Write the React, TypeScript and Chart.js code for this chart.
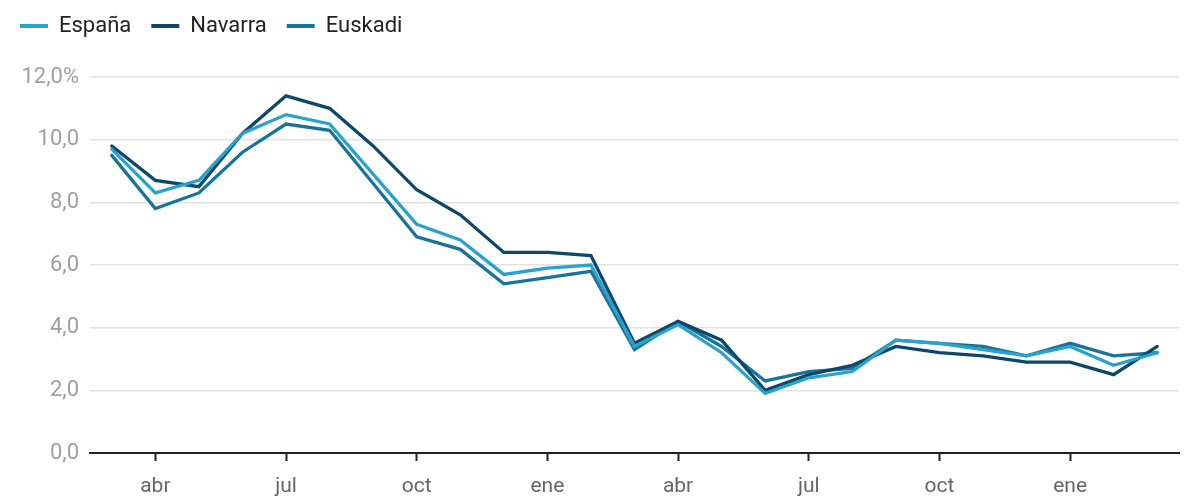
import React, { useEffect, useRef } from "react";
import { Chart, registerables } from "chart.js";

Chart.register(...registerables);

const months = ["mar", "abr", "may", "jun", "jul", "ago", "sep", "oct", "nov", "dic", "ene", "feb",
  "mar", "abr", "may", "jun", "jul", "ago", "sep", "oct", "nov", "dic", "ene", "feb", "mar"];
const shownMonths = ["abr", "jul", "oct", "ene"];

const espana = [9.7, 8.3, 8.7, 10.2, 10.8, 10.5, 8.9, 7.3, 6.8, 5.7, 5.9, 6.0, 3.4, 4.1, 3.2, 1.9, 2.4, 2.6, 3.6, 3.5, 3.3, 3.1, 3.4, 2.8, 3.2];
const navarra = [9.8, 8.7, 8.5, 10.2, 11.4, 11.0, 9.8, 8.4, 7.6, 6.4, 6.4, 6.3, 3.5, 4.2, 3.6, 2.0, 2.5, 2.8, 3.4, 3.2, 3.1, 2.9, 2.9, 2.5, 3.4];
const euskadi = [9.5, 7.8, 8.3, 9.6, 10.5, 10.3, 8.6, 6.9, 6.5, 5.4, 5.6, 5.8, 3.3, 4.2, 3.4, 2.3, 2.6, 2.7, 3.6, 3.5, 3.4, 3.1, 3.5, 3.1, 3.2];

const yTicks = [0, 2, 4, 6, 8, 10, 12];

const FONT = "Roboto";

export default function App() {
  const ref = useRef<HTMLCanvasElement | null>(null);

  useEffect(() => {
    document.body.style.margin = "0";
    const canvas = ref.current;
    if (!canvas) return;

    const legendFit = {
      id: "legendFit",
      beforeLayout(chart: any) {
        const legend = chart.legend;
        if (legend && !legend._patched) {
          const orig = legend.fit;
          legend.fit = function () {
            orig.call(this);
            this.height = 82;
          };
          legend._patched = true;
        }
      },
    };

    const chart = new Chart(canvas, {
      type: "line",
      data: {
        labels: months,
        datasets: [
          { label: "España", data: espana, borderColor: "#2aa2cc", backgroundColor: "#2aa2cc", borderWidth: 3.3 },
          { label: "Navarra", data: navarra, borderColor: "#0d4868", backgroundColor: "#0d4868", borderWidth: 3.3 },
          { label: "Euskadi", data: euskadi, borderColor: "#19749b", backgroundColor: "#19749b", borderWidth: 3.3 },
        ],
      },
      options: {
        animation: false,
        responsive: false,
        maintainAspectRatio: false,
        devicePixelRatio: 1,
        layout: { padding: { top: -5, left: 0, right: 21, bottom: 0 } },
        elements: {
          line: { tension: 0, borderCapStyle: "round", borderJoinStyle: "miter" },
          point: { radius: 0, hoverRadius: 0 },
        },
        plugins: {
          tooltip: { enabled: false },
          legend: {
            display: true,
            position: "top",
            align: "start",
            labels: {
              usePointStyle: true,
              pointStyle: "line",
              pointStyleWidth: 28,
              boxHeight: 21,
              padding: 20,
              color: "#222222",
              font: { family: FONT, size: 22 },
              generateLabels(chart: any) {
                return chart.data.datasets.map((ds: any, i: number) => ({
                  text: ds.label,
                  fillStyle: ds.borderColor,
                  strokeStyle: ds.borderColor,
                  lineWidth: 4,
                  pointStyle: "line",
                  hidden: false,
                  datasetIndex: i,
                  fontColor: "#222222",
                }));
              },
            },
          },
        },
        scales: {
          x: {
            type: "category",
            offset: true,
            afterBuildTicks(scale: any) {
              scale.ticks = scale.ticks.filter((t: any) => shownMonths.includes(months[t.value]));
            },
            afterFit(scale: any) {
              scale.height = 47;
            },
            grid: {
              display: true,
              drawOnChartArea: false,
              drawTicks: true,
              tickLength: 8,
              tickColor: "#222222",
              tickWidth: 2,
            },
            border: { display: true, color: "#222222", width: 2 },
            ticks: {
              autoSkip: false,
              maxRotation: 0,
              padding: 13,
              color: "#666666",
              font: { family: FONT, size: 21 },
            },
          },
          y: {
            min: 0,
            max: 12,
            afterBuildTicks(scale: any) {
              scale.ticks = yTicks.map((v) => ({ value: v }));
            },
            afterFit(scale: any) {
              scale.width = 90;
            },
            grid: {
              color: "#e2e2e2",
              lineWidth: 1.5,
              drawTicks: false,
            },
            border: { display: false },
            ticks: {
              padding: 11,
              color: "#a0a0a0",
              font: { family: FONT, size: 22 },
              callback: (value: any) => {
                const s = Number(value).toFixed(1).replace(".", ",");
                return Number(value) === 12 ? s + "%" : s;
              },
            },
          },
        },
      },
      plugins: [legendFit],
    } as any);

    return () => chart.destroy();
  }, []);

  return (
    <div style={{ width: 1200, height: 500, background: "#ffffff" }}>
      <canvas ref={ref} width={1200} height={500} style={{ display: "block" }} />
    </div>
  );
}
